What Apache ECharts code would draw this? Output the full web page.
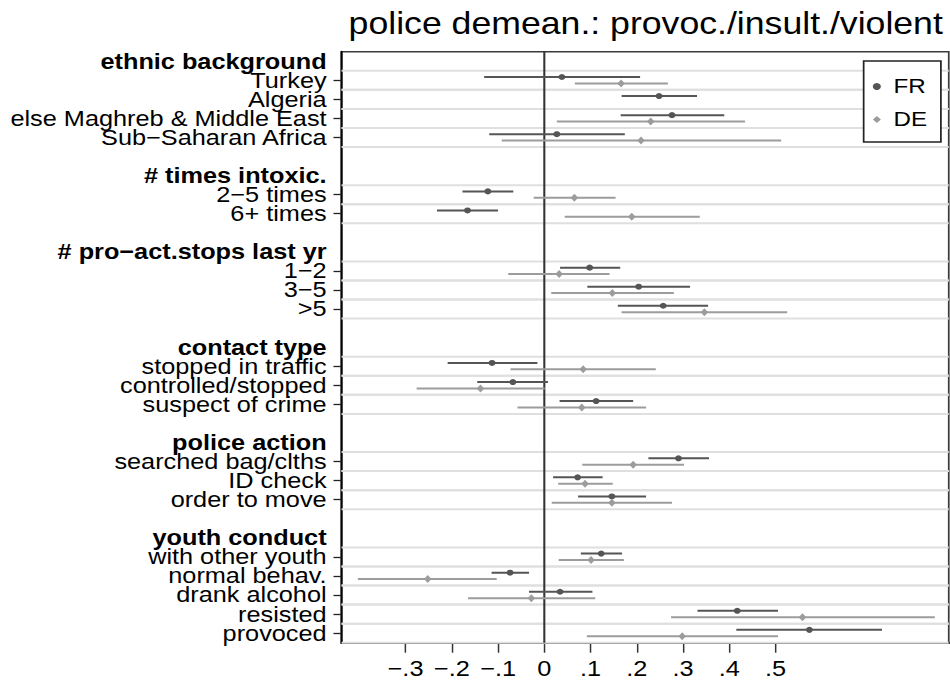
<!DOCTYPE html>
<html>
<head>
<meta charset="utf-8">
<script src="https://cdn.jsdelivr.net/npm/echarts@6/dist/echarts.min.js"></script>
<style>
  html, body { margin: 0; padding: 0; background: #fff; overflow: hidden; }
  /* The plot is laid out on a narrower canvas and widened horizontally,
     which gives the wide, Stata-like lettering of the original figure. */
  #chart { width: 826px; height: 680px; transform: scaleX(1.15); transform-origin: 0 0; }
</style>
</head>
<body>
<div id="chart"></div>
<script>
// ---- chart data -----------------------------------------------------------
const titleText = 'police demean.: provoc./insult./violent';

const groupNames = [
  'ethnic background',
  '# times intoxic.',
  '# pro\u2212act.stops last yr',
  'contact type',
  'police action',
  'youth conduct'
];

const groupItems = [
  ['Turkey', 'Algeria', 'else Maghreb & Middle East', 'Sub\u2212Saharan Africa'],
  ['2\u22125 times', '6+ times'],
  ['1\u22122', '3\u22125', '>5'],
  ['stopped in traffic', 'controlled/stopped', 'suspect of crime'],
  ['searched bag/clths', 'ID check', 'order to move'],
  ['with other youth', 'normal behav.', 'drank alcohol', 'resisted', 'provoced']
];

const seriesNames = ['FR', 'DE'];

// point estimates and confidence bounds, one entry per item (top to bottom)
const frEst  = [0.038, 0.248, 0.276, 0.027, -0.122, -0.166, 0.098, 0.204, 0.257, -0.113, -0.068, 0.112, 0.290, 0.072, 0.146, 0.123, -0.074, 0.034, 0.417, 0.573];
const frLow  = [-0.130, 0.167, 0.165, -0.119, -0.177, -0.232, 0.034, 0.093, 0.159, -0.209, -0.145, 0.033, 0.225, 0.019, 0.073, 0.079, -0.114, -0.033, 0.331, 0.415];
const frHigh = [0.207, 0.330, 0.389, 0.174, -0.067, -0.100, 0.164, 0.315, 0.354, -0.015, 0.008, 0.192, 0.356, 0.126, 0.220, 0.168, -0.033, 0.104, 0.505, 0.730];

const deEst  = [0.166, null, 0.230, 0.209, 0.065, 0.189, 0.032, 0.147, 0.346, 0.084, -0.138, 0.081, 0.192, 0.088, 0.146, 0.101, -0.252, -0.028, 0.558, 0.298];
const deLow  = [0.066, null, 0.027, -0.092, -0.023, 0.044, -0.078, 0.015, 0.167, -0.073, -0.276, -0.058, 0.082, 0.030, 0.016, 0.031, -0.403, -0.165, 0.274, 0.092];
const deHigh = [0.267, null, 0.434, 0.512, 0.154, 0.336, 0.141, 0.280, 0.525, 0.241, 0.001, 0.220, 0.302, 0.148, 0.276, 0.172, -0.103, 0.110, 0.844, 0.505];

const xTicks = [-0.3, -0.2, -0.1, 0, 0.1, 0.2, 0.3, 0.4, 0.5];
const refLine = [0];

// ---- row layout: blank row, bold group header, then the group's items ----
const rowLabels = [];
const rowKinds = [];
const itemRows = [];
groupNames.forEach((g, gi) => {
  if (gi > 0) { rowLabels.push(''); rowKinds.push('blank'); }
  rowLabels.push(g); rowKinds.push('header');
  groupItems[gi].forEach(name => {
    itemRows.push(rowLabels.length);
    rowLabels.push(name); rowKinds.push('item');
  });
});

const FONT = "'Liberation Sans', Arial, Helvetica, sans-serif";
const FR_COLOR = '#555555';
const DE_COLOR = '#9c9c9c';
const FR_SHIFT = -3.3;   // vertical offset of the FR marks inside a row (px)
const DE_SHIFT = 3.1;    // vertical offset of the DE marks inside a row (px)

function pointData(est) {
  return itemRows.map((r, i) => est[i] == null ? null : [est[i], r]).filter(d => d);
}
function rangeData(lo, hi) {
  return itemRows.map((r, i) => lo[i] == null ? null : [lo[i], hi[i], r]).filter(d => d);
}
function rangeSeries(name, lo, hi, color, shift) {
  return {
    name: name,
    type: 'custom',
    z: 3,
    silent: true,
    encode: { x: [0, 1], y: 2 },
    data: rangeData(lo, hi),
    renderItem: function (params, api) {
      const a = api.coord([api.value(0), api.value(2)]);
      const b = api.coord([api.value(1), api.value(2)]);
      const y = a[1] + shift;
      return {
        type: 'line',
        shape: { x1: a[0], y1: y, x2: b[0], y2: y },
        style: { stroke: color, lineWidth: 2 }
      };
    }
  };
}

function tickText(v) {
  if (Math.abs(v) < 1e-9) return '0';
  const d = Math.round(Math.abs(v) * 10);
  return (v < 0 ? '\u2212' : '') + '.' + d;
}

const chart = echarts.init(document.getElementById('chart'), null, { renderer: 'svg' });

chart.setOption({
  animation: false,
  backgroundColor: '#ffffff',
  textStyle: { fontFamily: FONT, color: '#000' },
  graphic: [{
    type: 'text',
    x: 561.5,
    y: 23.5,
    style: {
      text: titleText,
      fontFamily: FONT,
      fontSize: 31,
      fill: '#000',
      align: 'center',
      verticalAlign: 'middle'
    }
  }],
  legend: {
    orient: 'vertical',
    left: 751,
    top: 61,
    data: [
      { name: 'FR', icon: 'circle' },
      { name: 'DE', icon: 'diamond' }
    ],
    itemWidth: 7,
    itemHeight: 7,
    itemGap: 12,
    symbolKeepAspect: true,
    padding: [15, 12, 12, 8],
    backgroundColor: '#fff',
    borderColor: '#222',
    borderWidth: 1.5,
    borderRadius: 0,
    textStyle: { fontFamily: FONT, fontSize: 21, color: '#000', padding: [0, 0, 0, 6] },
    selectedMode: false
  },
  grid: {
    left: 297,
    right: 1,
    top: 51.7,
    bottom: 37.3,
    show: true,
    borderColor: '#3a3a3a',
    borderWidth: 1.5,
    backgroundColor: 'transparent'
  },
  xAxis: {
    type: 'value',
    min: -0.4383,
    max: 0.8742,
    axisLine: { show: true, onZero: false, lineStyle: { color: '#000', width: 2 } },
    axisTick: { show: true, customValues: xTicks, length: 10, lineStyle: { color: '#333', width: 1.3 } },
    axisLabel: {
      customValues: xTicks,
      formatter: tickText,
      fontSize: 22,
      color: '#000',
      margin: 15,
      fontFamily: FONT
    },
    splitLine: { show: false }
  },
  yAxis: {
    type: 'category',
    inverse: true,
    data: rowLabels,
    axisLine: { show: true, onZero: false, lineStyle: { color: '#000', width: 1.8 } },
    axisTick: {
      show: true,
      alignWithLabel: true,
      length: 7,
      interval: (idx) => rowKinds[idx] === 'item',
      lineStyle: { color: '#222', width: 1.3 }
    },
    axisLabel: {
      interval: 0,
      margin: 13,
      fontSize: 22,
      color: '#000',
      fontFamily: FONT,
      formatter: (value, idx) => rowKinds[idx] === 'header' ? '{h|' + value + '}' : value,
      rich: { h: { fontWeight: 'bold', fontSize: 22, color: '#000', fontFamily: FONT } }
    },
    splitLine: { show: false }
  },
  series: [
    {
      // light row guides above and below every item row
      name: 'rows',
      type: 'custom',
      z: 1,
      silent: true,
      encode: { y: 0 },
      data: itemRows.map(r => [r]),
      renderItem: function (params, api) {
        const cs = params.coordSys;
        const c = api.coord([0, api.value(0)]);
        const h = api.size([0, 1])[1];
        const mk = y => ({
          type: 'line',
          shape: { x1: cs.x, y1: y, x2: cs.x + cs.width, y2: y },
          style: { stroke: '#dfdfdf', lineWidth: 2 }
        });
        return { type: 'group', children: [mk(c[1] - h / 2), mk(c[1] + h / 2)] };
      }
    },
    {
      // vertical reference line at zero
      name: 'zero',
      type: 'custom',
      z: 2,
      silent: true,
      encode: { x: 0 },
      data: refLine.map(v => [v]),
      renderItem: function (params, api) {
        const cs = params.coordSys;
        const x = api.coord([api.value(0), 0])[0];
        return {
          type: 'line',
          shape: { x1: x, y1: cs.y, x2: x, y2: cs.y + cs.height },
          style: { stroke: '#333', lineWidth: 1.8 }
        };
      }
    },
    rangeSeries('FR range', frLow, frHigh, FR_COLOR, FR_SHIFT),
    rangeSeries('DE range', deLow, deHigh, DE_COLOR, DE_SHIFT),
    {
      name: 'FR',
      type: 'scatter',
      z: 4,
      symbol: 'circle',
      symbolSize: 6,
      symbolOffset: [0, FR_SHIFT],
      itemStyle: { color: FR_COLOR, opacity: 1 },
      data: pointData(frEst)
    },
    {
      name: 'DE',
      type: 'scatter',
      z: 4,
      symbol: 'diamond',
      symbolSize: [6.5, 8],
      symbolOffset: [0, DE_SHIFT],
      itemStyle: { color: DE_COLOR, opacity: 1 },
      data: pointData(deEst)
    }
  ]
});
</script>
</body>
</html>
